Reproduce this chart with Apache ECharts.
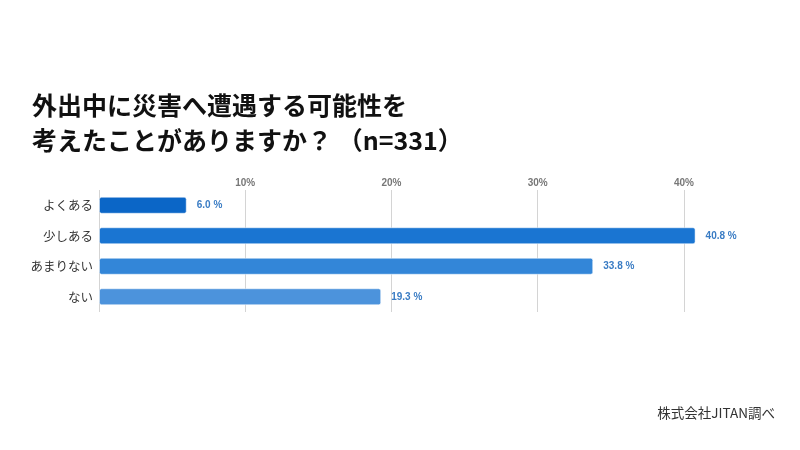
<!DOCTYPE html>
<html>
<head>
<meta charset="utf-8">
<script src="https://cdn.jsdelivr.net/npm/echarts@6/dist/echarts.min.js"></script>
<style>
  html, body { margin: 0; padding: 0; background: #fff; }
  #chart { width: 800px; height: 450px; }
</style>
</head>
<body>
<div id="chart"></div>
<script>
const titleLines = ["外出中に災害へ遭遇する可能性を", "考えたことがありますか？ （n=331）"];
const categories = ["よくある", "少しある", "あまりない", "ない"];
const values = [6.0, 40.8, 33.8, 19.3];
const barColors = ["#0b66c7", "#1a75d2", "#3386d8", "#4c93dc"];
const tickValues = [0, 10, 20, 30, 40];
const source = "株式会社JITAN調べ";

const jp = '"Noto Sans CJK JP", "Noto Sans", sans-serif';
const chart = echarts.init(document.getElementById("chart"), null, { renderer: "canvas" });

chart.setOption({
  backgroundColor: "#ffffff",
  animation: false,
  title: [
    {
      text: titleLines.join("\n"),
      left: 27,
      top: 83,
      textStyle: { fontFamily: jp, fontSize: 25, fontWeight: "bold", color: "#111111", lineHeight: 35 },
    },
    {
      text: source,
      right: 20,
      top: 401,
      textStyle: { fontFamily: jp, fontSize: 13.5, fontWeight: "normal", color: "#333333" },
    },
  ],
  grid: { left: 99, width: 658, top: 190, height: 122, containLabel: false },
  xAxis: {
    type: "value",
    position: "top",
    min: 0,
    max: 45,
    interval: 10,
    axisLine: { show: false },
    axisTick: { show: false },
    axisLabel: {
      showMaxLabel: false,
      margin: 2,
      color: "#777777",
      fontSize: 10,
      fontWeight: "bold",
      fontFamily: "Liberation Sans, Arial, sans-serif",
      formatter: (v) => (tickValues.includes(v) && v !== 0 ? v + "%" : ""),
    },
    splitLine: { show: true, showMaxLine: false, lineStyle: { color: "#d4d4d4", width: 1 } },
  },
  yAxis: {
    type: "category",
    inverse: true,
    data: categories,
    axisLine: { show: false },
    axisTick: { show: false },
    axisLabel: { color: "#333333", fontSize: 12.5, fontFamily: jp, margin: 6 },
  },
  series: [
    {
      type: "bar",
      barWidth: 17,
      data: values.map((v, i) => ({
        value: v,
        itemStyle: { color: barColors[i], borderColor: "rgba(255,255,255,0.5)", borderWidth: 1, borderRadius: 2 },
      })),
      label: {
        show: true,
        position: "right",
        distance: 10,
        color: "#3a7cc4",
        fontSize: 10,
        fontWeight: "bold",
        fontFamily: "Liberation Sans, Arial, sans-serif",
        formatter: (p) => p.value.toFixed(1) + " %",
      },
    },
  ],
});
</script>
</body>
</html>
